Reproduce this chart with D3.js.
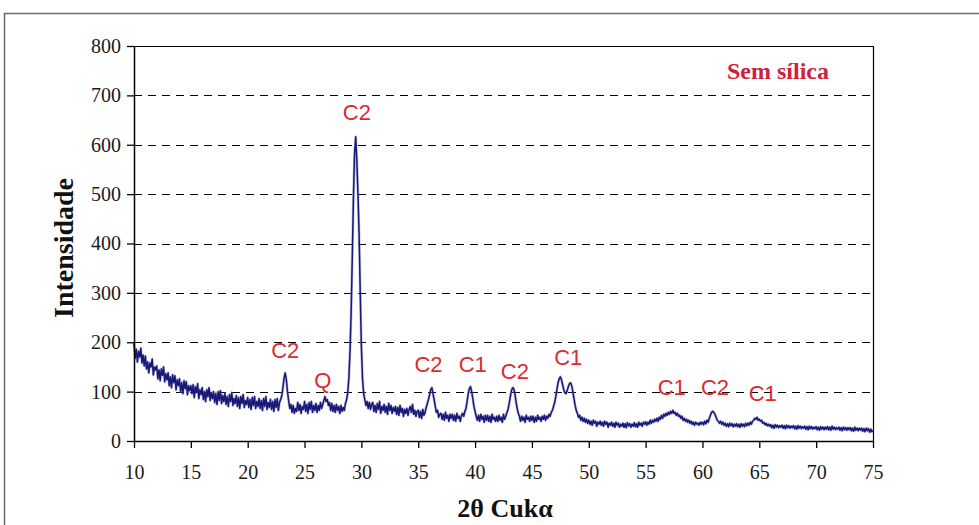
<!DOCTYPE html>
<html>
<head>
<meta charset="utf-8">
<script src="https://cdn.jsdelivr.net/npm/d3@7/dist/d3.min.js"></script>
<style>
  html, body { margin: 0; padding: 0; background: #fff; }
  svg { display: block; }
</style>
</head>
<body>
<svg id="chart" width="979" height="525"></svg>
<script>
// ---------------- data ----------------
const startAngle = 10;   // 2θ of first sample
const stepAngle = 0.1;   // sampling step (degrees)
// intensities, one row per degree (x.0 … x.9)
const intensity = [
  198,168,186,160,182,170,188,158,174,152,
  172,146,160,138,158,150,166,134,150,144,
  152,126,144,122,146,133,150,120,136,124,
  138,112,130,108,134,118,132,104,124,112,
  126,100,118,96,122,106,120,94,112,102,
  112,96,114,88,110,98,116,86,104,94,
  108,84,100,80,104,90,108,82,98,86,
  100,78,96,74,100,82,102,76,92,80,
  96,74,90,70,94,80,98,72,86,76,
  92,70,88,66,90,76,94,68,82,74,
  88,68,84,64,88,72,90,66,80,70,
  86,66,82,62,86,70,90,64,78,68,
  84,64,80,60,84,68,86,62,78,84,
  92,108,128,138,124,100,82,66,74,58,
  72,56,66,60,78,62,74,56,70,64,
  80,60,74,56,78,64,80,58,72,62,
  76,58,72,62,78,66,74,82,90,80,
  84,72,78,62,76,60,72,58,74,62,
  70,56,72,60,68,62,76,84,98,128,
  182,262,372,492,582,616,568,500,418,300,
  192,126,96,84,72,80,66,78,64,74,
  78,60,72,58,76,64,80,56,70,62,
  74,58,70,54,76,62,72,56,68,60,
  70,54,68,52,72,58,66,50,64,56,
  66,52,64,70,58,74,54,62,50,60,
  62,48,60,46,64,52,58,68,76,84,
  94,104,108,96,84,70,58,62,48,54,
  56,44,54,42,58,46,52,40,54,46,
  54,42,52,40,56,46,50,40,52,56,
  50,60,66,80,96,106,110,100,86,70,
  60,50,42,52,40,54,44,50,38,52,
  42,52,40,50,38,54,44,48,40,50,
  40,52,42,48,38,54,44,50,58,64,
  76,90,102,108,106,96,80,66,56,50,
  40,50,42,48,38,52,44,48,40,50,
  42,50,38,48,40,52,44,48,40,50,
  44,52,42,50,46,54,50,58,62,70,
  78,90,104,118,126,130,124,114,104,98,
  96,102,110,116,118,112,100,86,72,62,
  56,48,52,42,48,40,46,38,44,36,
  42,34,40,32,42,36,40,30,38,34,
  40,32,38,30,40,34,38,28,36,32,
  38,30,36,28,38,32,36,28,34,30,
  36,28,35,27,37,31,35,28,34,30,
  37,29,35,28,38,32,36,30,38,34,
  39,32,38,34,42,36,42,38,44,40,
  46,40,48,44,52,46,54,50,56,52,
  58,54,60,56,62,56,58,52,56,50,
  52,46,50,42,46,40,44,38,42,36,
  40,34,38,32,38,34,36,32,38,34,
  38,33,40,35,42,38,46,52,58,60,
  58,54,48,42,40,36,40,34,38,32,
  36,30,35,29,36,31,35,29,34,30,
  35,29,34,28,35,30,34,29,36,31,
  36,32,38,34,40,42,46,44,48,42,
  44,40,42,36,38,33,36,31,34,30,
  33,27,32,26,33,28,32,27,31,28,
  32,26,31,25,32,27,31,26,30,27,
  31,25,30,24,31,26,30,25,29,26,
  30,24,29,23,30,25,29,24,28,25,
  29,23,28,22,29,24,28,23,28,24,
  29,23,28,22,30,24,28,23,27,24,
  28,22,27,21,28,23,27,22,27,23,
  27,21,26,20,28,22,26,21,26,22,
  26,20,25,19,26,21,25,18,24,19,
  21
];
const xTicks = [10,15,20,25,30,35,40,45,50,55,60,65,70,75];
const yTicks = [0,100,200,300,400,500,600,700,800];
const gridValues = [100,200,300,400,500,600,700];
// peak labels: text, 2θ, intensity of label centre
const peakLabels = ["C2","C2","Q","C2","C1","C2","C1","C1","C2","C1"];
const peakAngles = [29.6,23.3,26.6,35.9,39.8,43.5,48.2,57.3,61.1,65.3];
const peakLevels = [666,184,123,154,154,140,170,109,109,97];
const xTitle = "2θ Cukα";
const yTitle = "Intensidade";
const legendText = "Sem sílica";

// ---------------- layout ----------------
(function draw() {
const svg = d3.select("#chart");
const pLeft = 134, pRight = 873, pTop = 46, pBottom = 441;
const x = d3.scaleLinear().domain([10, 75]).range([pLeft, pRight]);
const y = d3.scaleLinear().domain([0, 800]).range([pBottom, pTop]);

// outer frame (extends past the window right/bottom)
svg.append("rect")
  .attr("x", 4.5).attr("y", 13.5).attr("width", 1100).attr("height", 700)
  .attr("fill", "none").attr("stroke", "#6a6a6a").attr("stroke-width", 1.5);

// gridlines
svg.append("g").selectAll("line").data(gridValues).join("line")
  .attr("x1", pLeft).attr("x2", pRight)
  .attr("y1", d => Math.round(y(d)) + 0.5).attr("y2", d => Math.round(y(d)) + 0.5)
  .attr("stroke", "#000").attr("stroke-width", 1)
  .attr("stroke-dasharray", "8,6");

// plot frame top / right
svg.append("line").attr("x1", pLeft).attr("x2", pRight).attr("y1", pTop + 0.5).attr("y2", pTop + 0.5)
  .attr("stroke", "#000").attr("stroke-width", 1.2);
svg.append("line").attr("x1", pRight + 0.5).attr("x2", pRight + 0.5).attr("y1", pTop).attr("y2", pBottom)
  .attr("stroke", "#000").attr("stroke-width", 1.2);

// data line
const line = d3.line()
  .x((d, i) => x(startAngle + i * stepAngle))
  .y(d => y(d));
svg.append("path")
  .datum(intensity)
  .attr("d", line)
  .attr("fill", "none")
  .attr("stroke", "#7a7ab8")
  .attr("stroke-width", 2.8)
  .attr("stroke-opacity", 0.45)
  .attr("stroke-linejoin", "round");
svg.append("path")
  .datum(intensity)
  .attr("d", line)
  .attr("fill", "none")
  .attr("stroke", "#181878")
  .attr("stroke-width", 1.5)
  .attr("stroke-linejoin", "round");

// axes
const xAxis = d3.axisBottom(x).tickValues(xTicks).tickSize(7).tickSizeOuter(0).tickPadding(17)
  .tickFormat(d3.format("d"));
const gx = svg.append("g").attr("transform", `translate(0,${pBottom})`).call(xAxis);
const yAxis = d3.axisLeft(y).tickValues(yTicks).tickSize(7).tickSizeOuter(0).tickPadding(6)
  .tickFormat(d3.format("d"));
const gy = svg.append("g").attr("transform", `translate(${pLeft},0)`).call(yAxis);
[gx, gy].forEach(g => {
  g.select(".domain").attr("stroke", "#000").attr("stroke-width", 1.5);
  g.selectAll(".tick line").attr("stroke", "#000").attr("stroke-width", 1.3);
  g.selectAll(".tick text")
    .attr("fill", "#1a1a1a")
    .style("font-family", "'Liberation Serif', 'Times New Roman', serif")
    .style("font-size", "20px");
});

// axis titles
svg.append("text")
  .attr("x", 505).attr("y", 517)
  .attr("text-anchor", "middle")
  .style("font-family", "'Liberation Serif', 'Times New Roman', serif")
  .style("font-weight", "bold").style("font-size", "26px")
  .attr("fill", "#111")
  .text(xTitle);
svg.append("text")
  .attr("transform", "translate(73,248) rotate(-90)")
  .attr("text-anchor", "middle")
  .style("font-family", "'Liberation Serif', 'Times New Roman', serif")
  .style("font-weight", "bold").style("font-size", "28px")
  .attr("fill", "#111")
  .text(yTitle);

// legend-like label
svg.append("text")
  .attr("x", 778).attr("y", 79)
  .attr("text-anchor", "middle")
  .style("font-family", "'Liberation Serif', 'Times New Roman', serif")
  .style("font-weight", "bold").style("font-size", "24px")
  .attr("fill", "#d0203a")
  .text(legendText);

// peak labels
svg.append("g").selectAll("text").data(peakLabels).join("text")
  .attr("x", (d, i) => x(peakAngles[i]))
  .attr("y", (d, i) => y(peakLevels[i]))
  .attr("text-anchor", "middle")
  .attr("dominant-baseline", "central")
  .style("font-family", "'Liberation Sans', Arial, sans-serif")
  .style("font-size", "22px")
  .attr("fill", "#dc2a2e")
  .text(d => d);
})();
</script>
</body>
</html>
